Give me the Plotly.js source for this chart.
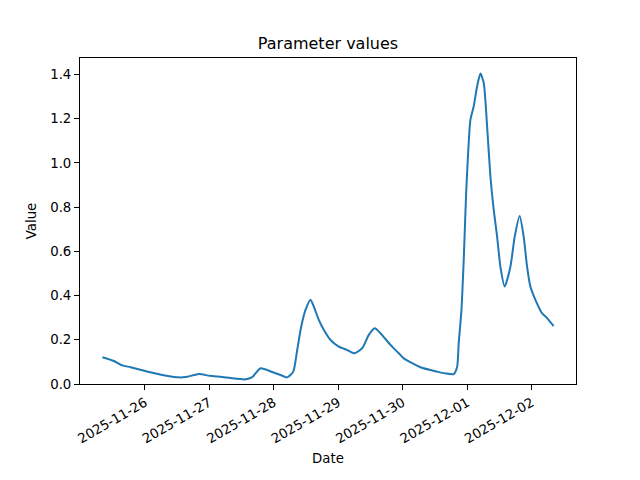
<!DOCTYPE html>
<html>
<head>
<meta charset="utf-8">
<script src="https://cdn.plot.ly/plotly-3.0.1.min.js"></script>
<style>html,body{margin:0;padding:0;background:#fff;}#chart{width:640px;height:480px;}</style>
</head>
<body>
<div id="chart"></div>
<script>
const times = [
  "2025-11-25 08:10","2025-11-25 12:28","2025-11-25 15:35","2025-11-25 18:41","2025-11-25 23:02",
  "2025-11-26 06:28","2025-11-26 12:39","2025-11-26 15:47","2025-11-26 20:06","2025-11-27 00:04",
  "2025-11-27 04:48","2025-11-27 07:53","2025-11-27 13:28","2025-11-27 15:58","2025-11-27 19:03",
  "2025-11-27 23:24","2025-11-28 02:30","2025-11-28 04:59","2025-11-28 07:13","2025-11-28 08:42",
  "2025-11-28 10:12","2025-11-28 11:48","2025-11-28 13:39","2025-11-28 14:53","2025-11-28 16:45",
  "2025-11-28 18:36","2025-11-28 21:06","2025-11-29 00:11","2025-11-29 03:19","2025-11-29 06:02",
  "2025-11-29 08:54","2025-11-29 11:21","2025-11-29 13:35","2025-11-29 15:42","2025-11-29 19:26",
  "2025-11-29 22:31","2025-11-30 00:22","2025-11-30 06:35","2025-11-30 12:48","2025-11-30 15:53",
  "2025-11-30 18:59","2025-11-30 20:15","2025-11-30 20:50","2025-11-30 21:51","2025-11-30 22:42",
  "2025-11-30 23:36","2025-12-01 00:20","2025-12-01 01:12","2025-12-01 02:25","2025-12-01 03:41",
  "2025-12-01 04:55","2025-12-01 06:09","2025-12-01 07:24","2025-12-01 08:38","2025-12-01 09:52",
  "2025-12-01 11:08","2025-12-01 12:21","2025-12-01 13:57","2025-12-01 16:05","2025-12-01 17:41",
  "2025-12-01 19:32","2025-12-01 21:01","2025-12-01 22:17","2025-12-01 23:31","2025-12-02 01:23",
  "2025-12-02 03:52","2025-12-02 05:44","2025-12-02 08:10"
];
const values = [
  0.121,0.104,0.084,0.076,0.062,
  0.041,0.030,0.033,0.045,0.037,
  0.032,0.027,0.021,0.031,0.071,
  0.054,0.041,0.030,0.056,0.154,
  0.260,0.335,0.381,0.350,0.290,
  0.245,0.199,0.169,0.154,0.139,
  0.162,0.222,0.252,0.230,0.177,
  0.139,0.116,0.076,0.056,0.048,
  0.045,0.078,0.184,0.335,0.562,
  0.864,1.045,1.196,1.256,1.347,
  1.405,1.362,1.166,0.939,0.788,
  0.667,0.531,0.441,0.531,0.667,
  0.760,0.667,0.531,0.441,0.381,
  0.320,0.298,0.262
];
const yTicks = [0,0.2,0.4,0.6,0.8,1.0,1.2,1.4];
const xTicks = ["2025-11-26","2025-11-27","2025-11-28","2025-11-29","2025-11-30","2025-12-01","2025-12-02"];

const font = {family: "DejaVu Sans, sans-serif", size: 13.3, color: "#000"};
const trace = {
  x: times, y: values, type: "scatter", mode: "lines",
  line: {color: "#1f77b4", width: 2, shape: "spline", smoothing: 0.6}, hoverinfo: "skip"
};
const layout = {
  width: 640, height: 480,
  margin: {l: 80, r: 64, t: 58, b: 96},
  paper_bgcolor: "#fff", plot_bgcolor: "#fff",
  font: font, showlegend: false,
  title: {text: "Parameter values", font: {family: font.family, size: 16, color: "#000"},
          x: 0.5, xref: "paper", xanchor: "center", y: 1 - 43/480, yref: "container", yanchor: "middle"},
  xaxis: {
    type: "date", range: ["2025-11-24 23:50", "2025-12-02 16:30"],
    tickvals: xTicks, tickformat: "%Y-%m-%d", tickangle: -30,
    ticks: "outside", ticklen: 5, tickwidth: 1, tickcolor: "#000",
    showline: true, linecolor: "#000", linewidth: 1, mirror: true,
    showgrid: false, zeroline: false, automargin: false,
    tickfont: font,
    title: {text: "Date", font: font, standoff: 8}
  },
  yaxis: {
    range: [0, 1.475], tickvals: yTicks, tickformat: ".1f",
    ticks: "outside", ticklen: 5, tickwidth: 1, tickcolor: "#000",
    showline: true, linecolor: "#000", linewidth: 1, mirror: true,
    showgrid: false, zeroline: false, automargin: false,
    tickfont: font,
    title: {text: "Value", font: font, standoff: 10}
  }
};
Plotly.newPlot("chart", [trace], layout, {staticPlot: true, displayModeBar: false});
</script>
</body>
</html>
